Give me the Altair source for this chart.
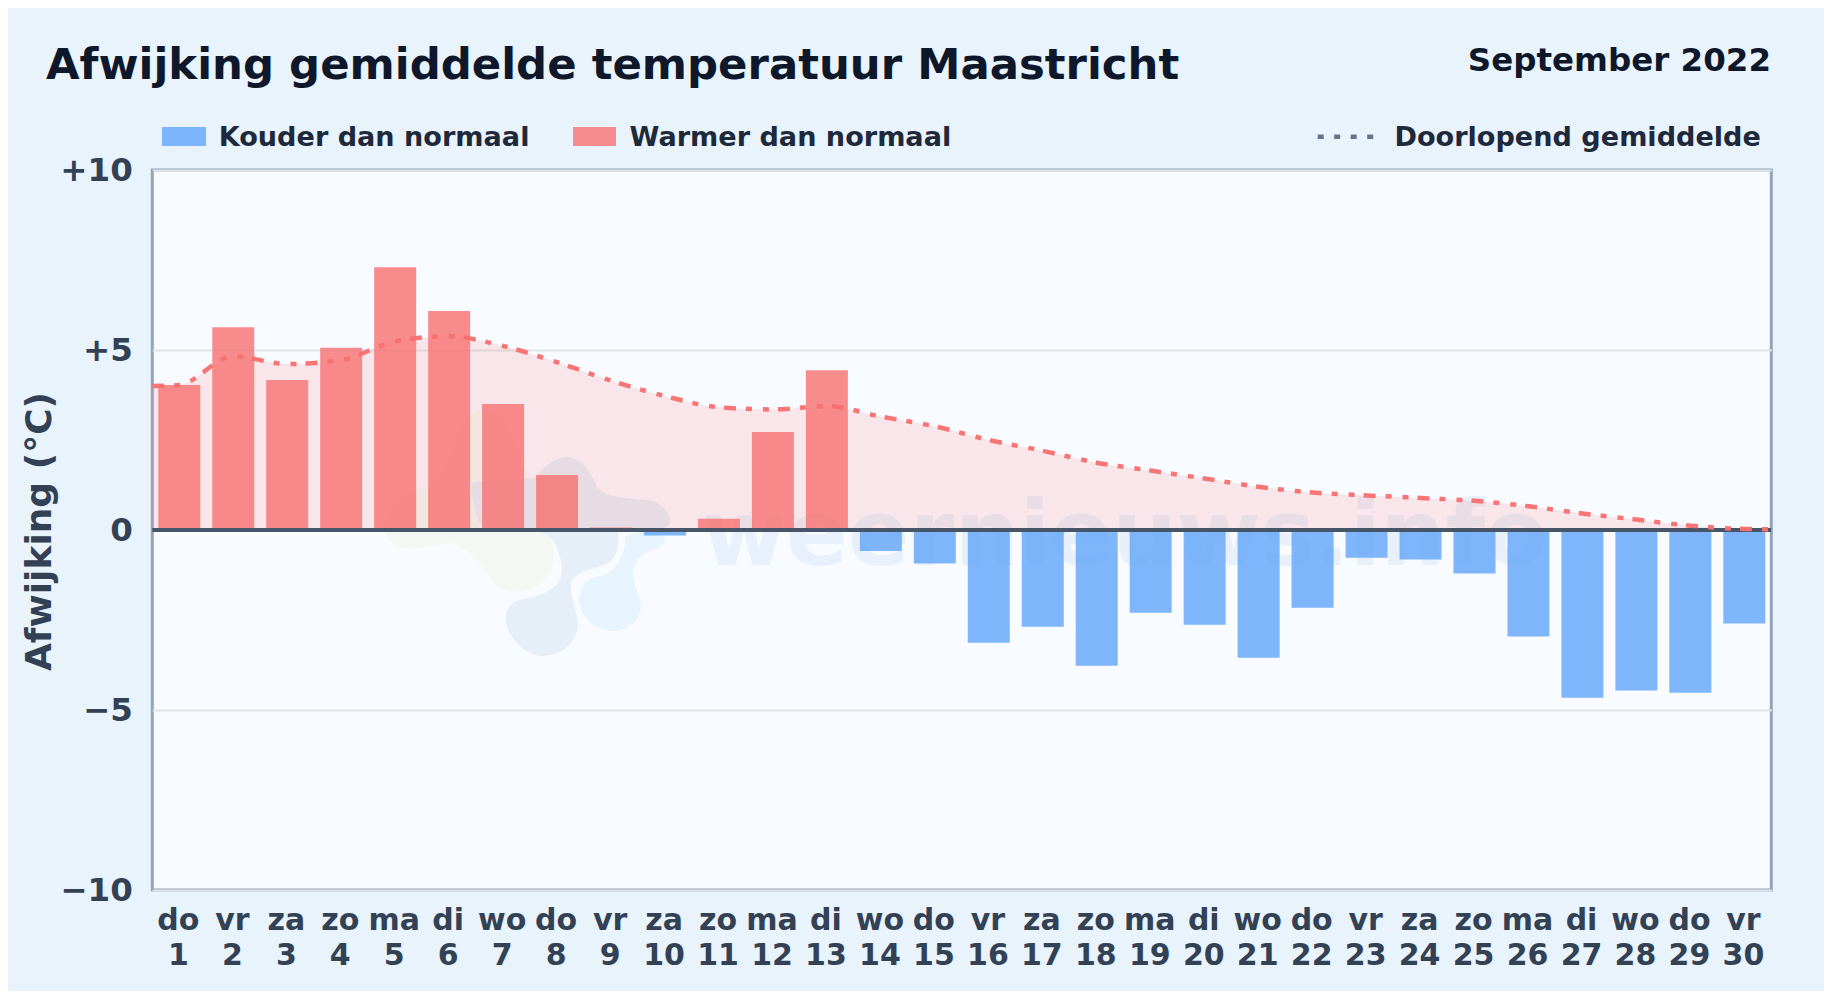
import altair as alt
import pandas as pd

weekdays = ["do","vr","za","zo","ma","di","wo"]*4 + ["do","vr"]
days = list(range(1, 31))
deviation = [4.03,5.63,4.17,5.06,7.30,6.08,3.50,1.53,0.07,-0.15,0.31,2.72,4.44,-0.58,-0.93,
             -3.13,-2.69,-3.77,-2.30,-2.63,-3.55,-2.16,-0.77,-0.82,-1.21,-2.96,-4.66,-4.46,-4.52,-2.60]
mean_x = [0.5] + days + [30.5]
mean_y = [4.0,4.03,4.83,4.61,4.72,5.24,5.38,5.11,4.66,4.15,3.72,3.41,3.35,3.44,3.15,2.88,
          2.50,2.20,1.87,1.65,1.43,1.20,1.04,0.96,0.89,0.81,0.66,0.46,0.29,0.12,0.03,0.02]
y_ticks = [-10,-5,0,5,10]

FONT = "DejaVu Sans"
PLOT_L, PLOT_T = 152.3, 170
PLOT_W, PLOT_H = 1619, 720
BG = "#e9f3fc"
VIEW = "#f8fbff"
RED, BLUE = "#f87171", "#60a5fa"

bars_df = pd.DataFrame({"day": days, "dev": deviation})
mean_df = pd.DataFrame({"day": mean_x, "mean": mean_y})
one = alt.Data(values=[{"a": 1}])
px = lambda v: alt.value(v - PLOT_L)
py = lambda v: alt.value(v - PLOT_T)

x_scale = alt.Scale(domain=[0.5, 30.5], nice=False, zero=False, padding=0)
y_scale = alt.Scale(domain=[-10, 10], nice=False)
names = " ".join(weekdays)

x_axis = alt.Axis(values=days, title=None, ticks=False, domain=False, grid=False, labelAngle=0,
                  labelFont=FONT, labelFontWeight="bold", labelFontSize=30, labelColor="#334155",
                  labelPadding=15, labelLineHeight=35, labelOverlap=False, labelFlush=False, labelBound=False,
                  labelOffset=-1.4,
                  labelExpr=f"[split('{names}',' ')[datum.value-1], datum.label]")
y_axis = alt.Axis(values=y_ticks, title="Afwijking (°C)", ticks=False, domain=False,
                  gridColor="#e0e6ea", gridWidth=2,
                  labelFont=FONT, labelFontWeight="bold", labelFontSize=32.5, labelColor="#334155", labelPadding=20,
                  labelExpr="datum.value>0 ? '+'+datum.value : datum.value<0 ? '−'+abs(datum.value) : '0'",
                  titleFont=FONT, titleFontWeight="bold", titleFontSize=36, titleColor="#334155",
                  titleX=39-PLOT_L, titleY=361, titleAnchor="middle", titleAlign="center", titleBaseline="middle", titleAngle=270)

def blob(path, fill):
    return alt.Chart(one).mark_point(shape=path, filled=True, fill=fill, opacity=1, size=4, strokeWidth=0).encode(
        x=alt.value(-PLOT_L), y=alt.value(-PLOT_T))

green = blob("M385 530C385 505 410 487 432 486C450 470 455 425 475 412C500 405 520 440 535 500L553 540C556 560 553 575 540 585C525 594 505 594 495 585C480 565 470 548 450 543C425 547 405 552 395 545C388 540 385 535 385 530Z", "#f3f9f2")
gray = blob("M567 457C580 457 590 470 597 487C603 496 620 498 647 500C662 502 670 512 670 523C668 532 640 530 618 532C620 548 615 560 608 563C595 570 583 568 572 580C568 595 578 610 578 627C575 645 560 656 542 656C525 655 510 640 506 623C505 612 508 606 515 602C525 597 550 597 560 580C565 565 558 550 553 540C530 520 500 535 482 527C475 515 470 495 472 483C490 478 520 480 535 478C545 465 555 457 567 457Z", "#e6eff8")
light = blob("M625 537C640 530 655 530 665 537C667 545 655 550 647 552C638 558 632 565 633 575C634 590 642 597 641 607C640 622 625 631 612 631C600 630 590 625 584 615C578 605 577 595 585 583C592 575 605 578 612 570C622 560 626 550 625 537Z", "#e7f3fd")
water = alt.Chart(one).mark_text(text="weernieuws.info", font=FONT, fontWeight="bold", fontSize=91, align="left",
                                 baseline="alphabetic", color="#e8f1fb").encode(x=px(702), y=py(565))

area = alt.Chart(mean_df).mark_area(interpolate="monotone", color=RED, opacity=0.15).encode(
    x=alt.X("day:Q", scale=x_scale, axis=x_axis),
    y=alt.Y("mean:Q", scale=y_scale, axis=y_axis))
bars = alt.Chart(bars_df).mark_bar(size=42, opacity=0.8, orient="vertical").encode(
    x=alt.X("day:Q", scale=x_scale),
    y=alt.Y("dev:Q", scale=y_scale),
    color=alt.condition("datum.dev < 0", alt.value(BLUE), alt.value(RED)))
zero = alt.Chart(one).mark_rule(color="#475569", strokeWidth=4).encode(y=alt.datum(0, scale=y_scale))
line = alt.Chart(mean_df).mark_line(interpolate="monotone", color=RED, strokeWidth=4.5, opacity=0.97,
                                    strokeDash=[12,10,6,11,6,9], strokeCap="butt").encode(
    x=alt.X("day:Q", scale=x_scale), y=alt.Y("mean:Q", scale=y_scale))

def text(s, x, y, size, color, align="left"):
    return alt.Chart(one).mark_text(text=s, font=FONT, fontWeight="bold", fontSize=size, align=align,
                                    baseline="alphabetic", color=color).encode(x=px(x), y=py(y))
def swatch(x1, x2, color):
    return alt.Chart(one).mark_rect(color=color, opacity=0.8).encode(x=px(x1), x2=px(x2), y=py(127), y2=py(146))

title = text("Afwijking gemiddelde temperatuur Maastricht", 46, 79, 43.4, "#0f172a")
sub = text("September 2022", 1771, 71, 32.5, "#0f172a", "right")
leg1 = swatch(162, 206, BLUE)
leg1t = text("Kouder dan normaal", 218.7, 146, 27.1, "#1e293b")
leg2 = swatch(573, 616, RED)
leg2t = text("Warmer dan normaal", 629.5, 146, 27.1, "#1e293b")
leg3 = alt.Chart(one).mark_rule(color="#64748b", strokeWidth=4.5, strokeDash=[6,10.5]).encode(x=px(1317.7), x2=px(1376), y=py(136.7))
leg3t = text("Doorlopend gemiddelde", 1394.5, 146, 27.1, "#1e293b")

chart = alt.layer(green, gray, light, water, area, bars, zero, line, title, sub, leg1, leg1t, leg2, leg2t, leg3, leg3t).properties(
    width=PLOT_W, height=PLOT_H, background=BG,
    autosize=alt.AutoSizeParams(type="none"),
    padding={"left": PLOT_L-8, "top": PLOT_T-8, "right": 1816-(PLOT_L-8)-PLOT_W, "bottom": 984-(PLOT_T-8)-PLOT_H-1},
).configure_view(fill=VIEW, stroke="#94a3b8", strokeWidth=3)

chart.save("out.html", embed_options={"renderer": "svg", "actions": False})
